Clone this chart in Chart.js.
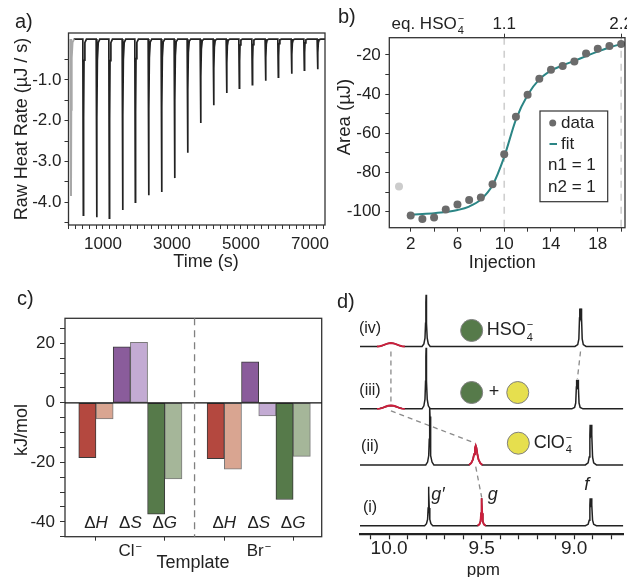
<!DOCTYPE html>
<html>
<head>
<meta charset="utf-8">
<script src="https://cdn.jsdelivr.net/npm/chart.js@4.4.1/dist/chart.umd.min.js"></script>
<style>
  body { margin: 0; background: #fff; width: 627px; height: 577px; position: relative; overflow: hidden; font-family: "Liberation Sans", Arial, sans-serif; }
  canvas { position: absolute; }
  .tag { position: absolute; font-size: 20px; line-height: 1; color: #222; }
</style>
</head>
<body>
<canvas id="chart-a" width="330" height="285" style="left:0;top:0"></canvas>
<canvas id="chart-b" width="297" height="285" style="left:330px;top:0"></canvas>
<canvas id="chart-c" width="330" height="292" style="left:0;top:285px"></canvas>
<canvas id="chart-d" width="297" height="292" style="left:330px;top:285px"></canvas>
<div class="tag" style="left:15px;top:11px">a)</div>
<div class="tag" style="left:338px;top:6px">b)</div>
<div class="tag" style="left:17px;top:288px">c)</div>
<div class="tag" style="left:337px;top:291px">d)</div>
<script>
// a) raw ITC trace: injection times (s) and peak minima (uJ/s)
const A_INJ_TIME = [72, 430, 817, 1184, 1570, 1937, 2324, 2700, 3077, 3454, 3831, 4208, 4585, 4952, 5329, 5714, 6082, 6469, 6836, 7222];
const A_PEAK = [-3.85, -4.32, -4.37, -4.39, -4.19, -4.0, -3.83, -3.75, -3.41, -2.79, -2.06, -1.62, -1.32, -1.20, -1.12, -1.02, -0.93, -0.85, -0.76, -0.74];
const A_X_LABELS = [1000, 3000, 5000, 7000];
const A_Y_LABELS = [-1, -2, -3, -4];

// b) integrated heats
const B_INJ = [1, 2, 3, 4, 5, 6, 7, 8, 9, 10, 11, 12, 13, 14, 15, 16, 17, 18, 19, 20];
const B_AREA = [-87.2, -102.0, -103.7, -103.0, -98.9, -96.4, -94.1, -92.8, -86.0, -70.7, -51.5, -40.3, -32.1, -27.5, -25.6, -23.4, -19.3, -16.9, -15.4, -14.4];
const B_FIT_INJ = [2, 3, 4, 5, 6, 7, 8, 9, 10, 11, 12, 13, 14, 15, 16, 17, 18, 19, 20];
const B_FIT = [-101.5, -101.2, -100.8, -100.2, -99.2, -97.4, -93.8, -86.5, -72.0, -53.0, -40.5, -32.5, -28.0, -25.3, -23.0, -20.6, -18.3, -16.2, -14.4];
const B_X_LABELS = [2, 6, 10, 14, 18];
const B_Y_LABELS = [-20, -40, -60, -80, -100];
const B_TOP_AT = [10, 20];
const B_TOP_LABELS = ['1.1', '2.2'];

// c) thermodynamic parameters (kJ/mol), order: Cl dH dS dG, Br dH dS dG
const C_TEMPLATES = ['Cl', 'Br'];
const C_TERMS = ['H', 'S', 'G'];
const C_DARK = [-18.4, 18.8, -37.4, -18.8, 13.8, -32.5];
const C_LIGHT = [-5.4, 20.3, -25.6, -22.3, -4.4, -18.0];
const C_Y_LABELS = [20, 0, -20, -40];

// d) 1H NMR stack, peaks per spectrum (ppm, height)
const D_NAMES = ['(iv)', '(iii)', '(ii)', '(i)'];
const D_PPM = [[9.99, 9.80, 8.966], [9.99, 9.80, 8.983], [9.78, 9.532, 8.91], [9.786, 9.50, 8.91]];
const D_HEIGHT = [[3.4, 51.7, 38], [3.4, 61, 29], [57, 19.3, 40], [39, 27.4, 27.4]];
const D_KIND = [['broad', 'sharp', 'doublet'], ['broad', 'sharp', 'doublet'], ['sharp', 'medium', 'doublet'], ['sharp', 'sharp', 'doublet']];
const D_RED = [[true, false, false], [true, false, false], [false, true, false], [false, true, false]];
const D_X_LABELS = [10.0, 9.5, 9.0];

const FONT = '"Liberation Sans", Arial, Helvetica, sans-serif';
const INK = '#222';
Chart.defaults.font.family = FONT;
Chart.defaults.color = INK;
Chart.defaults.animation = false;

function steps(from, to, step) {
  const out = [];
  for (let v = from; v <= to + 1e-9; v += step) out.push(Math.round(v * 1000) / 1000);
  return out;
}
const fixTicks = list => s => { s.ticks = list.map(value => ({ value })); };

function txt(ctx, s, x, y, size, opts = {}) {
  ctx.save();
  ctx.font = `${opts.italic ? 'italic ' : ''}${size}px ${FONT}`;
  ctx.fillStyle = opts.color || INK;
  ctx.textAlign = opts.align || 'center';
  ctx.textBaseline = opts.baseline || 'middle';
  ctx.translate(x, y);
  if (opts.rot) ctx.rotate(opts.rot);
  ctx.fillText(s, 0, 0);
  ctx.restore();
}

// text with subscript and superscript stacked after it
function chem(ctx, x, y, base, sub, sup, size) {
  ctx.save();
  ctx.font = `${size}px ${FONT}`;
  ctx.fillStyle = INK;
  ctx.textAlign = 'left';
  ctx.textBaseline = 'middle';
  ctx.fillText(base, x, y);
  const w = ctx.measureText(base).width;
  ctx.font = `${Math.round(size * 0.62)}px ${FONT}`;
  if (sub) ctx.fillText(sub, x + w + 1, y + size * 0.4);
  if (sup) ctx.fillText(sup, x + w + 1, y - size * 0.3);
  ctx.restore();
}

const framePlugin = {
  id: 'frame',
  afterDatasetsDraw(chart) {
    const { ctx, chartArea: a } = chart;
    ctx.save();
    ctx.strokeStyle = '#333';
    ctx.lineWidth = 1.3;
    ctx.strokeRect(a.left, a.top, a.right - a.left, a.bottom - a.top);
    ctx.restore();
  },
};

function tickAxis(extra) {
  return Object.assign({
    type: 'linear',
    border: { display: false },
    grid: { drawOnChartArea: false, drawTicks: true, tickLength: 4, tickColor: '#333', tickWidth: 1 },
  }, extra);
}

// ---------- a) ----------
const SPIKE_SHAPE = [[-15, 0], [0, 1], [8, 0.45], [20, 0.12], [45, 0.02], [90, 0]];
function spikes(times, peaks) {
  const pts = [];
  times.forEach((t, i) => SPIKE_SHAPE.forEach(([dt, f]) => pts.push({ x: t + dt, y: peaks[i] * f })));
  return pts;
}

new Chart(document.getElementById('chart-a'), {
  type: 'line',
  data: {
    datasets: [
      { data: spikes(A_INJ_TIME.slice(0, 1), A_PEAK.slice(0, 1)), borderColor: '#a8a8a8', borderWidth: 2, pointRadius: 0 },
      { data: [{ x: 150, y: 0 }, ...spikes(A_INJ_TIME.slice(1), A_PEAK.slice(1)), { x: 7435, y: 0 }], borderColor: INK, borderWidth: 1.7, pointRadius: 0 },
    ],
  },
  options: {
    responsive: false,
    events: [],
    layout: { autoPadding: false, padding: { top: 33, right: 5 } },
    plugins: { legend: { display: false }, tooltip: { enabled: false } },
    scales: {
      x: tickAxis({
        min: 0, max: 7435,
        afterFit: s => { s.height = 60; },
        afterBuildTicks: fixTicks(steps(0, 7400, 200)),
        ticks: {
          autoSkip: false, maxRotation: 0, padding: 5, font: { size: 17 },
          callback: v => (A_X_LABELS.includes(v) ? String(v) : ''),
        },
      }),
      y: tickAxis({
        min: -4.56, max: 0.15,
        afterFit: s => { s.width = 68.5; },
        afterBuildTicks: fixTicks(steps(-4.5, -0.5, 0.5)),
        ticks: {
          autoSkip: false, padding: 3, font: { size: 17 },
          callback: v => (A_Y_LABELS.includes(v) ? v.toFixed(1) : ''),
        },
      }),
    },
  },
  plugins: [framePlugin, {
    id: 'titlesA',
    afterDraw(chart) {
      const { ctx } = chart;
      txt(ctx, 'Raw Heat Rate (µJ / s)', 22, 129, 18, { rot: -Math.PI / 2 });
      txt(ctx, 'Time (s)', 206, 262, 18);
    },
  }],
});

// ---------- b) ----------
new Chart(document.getElementById('chart-b'), {
  type: 'line',
  data: {
    datasets: [
      {
        data: B_INJ.map((x, i) => ({ x, y: B_AREA[i] })),
        showLine: false, pointRadius: 4, pointBorderWidth: 0,
        pointBackgroundColor: B_INJ.map((_, i) => (i === 0 ? '#cccccc' : '#6b6b6b')),
      },
      {
        data: B_FIT_INJ.map((x, i) => ({ x, y: B_FIT[i] })),
        borderColor: '#2b8585', borderWidth: 2, pointRadius: 0, cubicInterpolationMode: 'monotone',
      },
    ],
  },
  options: {
    responsive: false,
    events: [],
    layout: { autoPadding: false, padding: { right: 2 } },
    plugins: { legend: { display: false }, tooltip: { enabled: false } },
    scales: {
      x: tickAxis({
        min: 0.17, max: 20.33,
        afterFit: s => { s.height = 57.3; },
        afterBuildTicks: fixTicks(steps(2, 20, 2)),
        ticks: {
          autoSkip: false, maxRotation: 0, padding: 2.5, font: { size: 17 },
          callback: v => (B_X_LABELS.includes(v) ? String(v) : ''),
        },
      }),
      x2: tickAxis({
        position: 'top',
        min: 0.17, max: 20.33,
        afterFit: s => { s.height = 37.7; },
        afterBuildTicks: fixTicks(B_TOP_AT),
        ticks: { autoSkip: false, maxRotation: 0, callback: () => '' },
      }),
      y: tickAxis({
        min: -108.2, max: -11.2,
        afterFit: s => { s.width = 59.3; },
        afterBuildTicks: fixTicks(steps(-100, -20, 10)),
        ticks: {
          autoSkip: false, padding: 4.5, font: { size: 17 },
          callback: v => (B_Y_LABELS.includes(v) ? String(v) : ''),
        },
      }),
    },
  },
  plugins: [framePlugin, {
    id: 'decorB',
    beforeDatasetsDraw(chart) {
      const { ctx, chartArea: a, scales } = chart;
      ctx.save();
      ctx.strokeStyle = '#cfcfcf';
      ctx.lineWidth = 1.6;
      ctx.setLineDash([7, 6]);
      B_TOP_AT.forEach(v => {
        const x = scales.x.getPixelForValue(v);
        ctx.beginPath(); ctx.moveTo(x, a.top); ctx.lineTo(x, a.bottom); ctx.stroke();
      });
      ctx.restore();
    },
    afterDraw(chart) {
      const { ctx, scales } = chart;
      B_TOP_AT.forEach((v, i) => txt(ctx, B_TOP_LABELS[i], scales.x.getPixelForValue(v), 24, 17));
      // legend box
      ctx.save();
      ctx.fillStyle = '#fff';
      ctx.fillRect(210, 111, 67.7, 90.7);
      ctx.strokeStyle = '#333';
      ctx.lineWidth = 1.2;
      ctx.strokeRect(210, 111, 67.7, 90.7);
      ctx.fillStyle = '#6b6b6b';
      ctx.beginPath(); ctx.arc(222.7, 123, 3.5, 0, Math.PI * 2); ctx.fill();
      ctx.strokeStyle = '#2b8585';
      ctx.lineWidth = 2;
      ctx.beginPath(); ctx.moveTo(219.5, 144); ctx.lineTo(227, 144); ctx.stroke();
      ctx.restore();
      txt(ctx, 'data', 231, 123, 17, { align: 'left' });
      txt(ctx, 'fit', 231, 144, 17, { align: 'left' });
      txt(ctx, 'n1 = 1', 218, 165.7, 17, { align: 'left' });
      txt(ctx, 'n2 = 1', 218, 187.3, 17, { align: 'left' });
      chem(ctx, 61.5, 24, 'eq. HSO', '4', '\u2212', 17);
      txt(ctx, 'Area (µJ)', 15, 117, 18.5, { rot: -Math.PI / 2 });
      txt(ctx, 'Injection', 172.3, 263, 18);
    },
  }],
});

// ---------- c) ----------
const GROUP_STEP = 3.73;
const cPos = i => Math.floor(i / 3) * GROUP_STEP + (i % 3);
const C_COLORS_DARK = ['#b4483f', '#8a5c9b', '#567a4a'];
const C_COLORS_LIGHT = ['#d9a591', '#c3abd3', '#a5b699'];

new Chart(document.getElementById('chart-c'), {
  type: 'bar',
  data: {
    datasets: [
      {
        data: C_DARK.map((y, i) => ({ x: cPos(i), y })),
        backgroundColor: C_DARK.map((_, i) => C_COLORS_DARK[i % 3]),
        borderColor: '#3a3a3a', borderWidth: 1, borderSkipped: false,
        categoryPercentage: 1, barPercentage: 1,
      },
      {
        data: C_LIGHT.map((y, i) => ({ x: cPos(i), y })),
        backgroundColor: C_LIGHT.map((_, i) => C_COLORS_LIGHT[i % 3]),
        borderColor: '#7a7a7a', borderWidth: 1, borderSkipped: false,
        categoryPercentage: 1, barPercentage: 1,
      },
    ],
  },
  options: {
    responsive: false,
    events: [],
    layout: { autoPadding: false, padding: { top: 33.3, right: 8.3 } },
    plugins: { legend: { display: false }, tooltip: { enabled: false } },
    scales: {
      x: tickAxis({
        min: -0.9, max: 6.56, offset: false,
        grid: { offset: false, drawOnChartArea: false, tickLength: 4, tickColor: '#333' },
        afterFit: s => { s.height = 40.3; },
        afterBuildTicks: fixTicks([0, 2, GROUP_STEP, GROUP_STEP + 2]),
        ticks: { autoSkip: false, callback: () => '' },
      }),
      y: tickAxis({
        min: -45, max: 28.4,
        afterFit: s => { s.width = 65; },
        grid: { drawOnChartArea: false, tickLength: 5, tickColor: '#333' },
        afterBuildTicks: fixTicks(steps(-45, 25, 5)),
        ticks: {
          autoSkip: false, padding: 5, font: { size: 17 },
          callback: v => (C_Y_LABELS.includes(v) ? String(v) : ''),
        },
      }),
    },
  },
  plugins: [framePlugin, {
    id: 'decorC',
    afterDatasetsDraw(chart) {
      const { ctx, chartArea: a, scales } = chart;
      ctx.save();
      const y0 = scales.y.getPixelForValue(0);
      ctx.strokeStyle = '#111';
      ctx.lineWidth = 1.3;
      ctx.beginPath(); ctx.moveTo(a.left, y0); ctx.lineTo(a.right, y0); ctx.stroke();
      const xm = scales.x.getPixelForValue((2 + GROUP_STEP) / 2);
      ctx.strokeStyle = '#808080';
      ctx.setLineDash([7, 5]);
      ctx.beginPath(); ctx.moveTo(xm, a.top); ctx.lineTo(xm, a.bottom); ctx.stroke();
      ctx.restore();
      C_TEMPLATES.forEach((name, g) => {
        C_TERMS.forEach((term, t) => {
          const x = scales.x.getPixelForValue(g * GROUP_STEP + t);
          ctx.save();
          ctx.font = `17px ${FONT}`;
          const wD = ctx.measureText('\u0394').width;
          ctx.font = `italic 17px ${FONT}`;
          const wL = ctx.measureText(term).width;
          ctx.restore();
          const x0 = x - (wD + wL) / 2;
          txt(ctx, '\u0394', x0, a.bottom - 13, 17, { align: 'left' });
          txt(ctx, term, x0 + wD, a.bottom - 13, 17, { align: 'left', italic: true });
        });
        const xc = scales.x.getPixelForValue(g * GROUP_STEP + 1);
        chem(ctx, xc - 12, a.bottom + 15, name, '', '\u2212', 17);
      });
    },
    afterDraw(chart) {
      const { ctx } = chart;
      txt(ctx, 'kJ/mol', 22, 145, 18, { rot: -Math.PI / 2 });
      txt(ctx, 'Template', 193, 278.5, 18);
    },
  }],
});

// ---------- d) ----------
const PEAK_SHAPES = {
  sharp: [[-0.022, 0], [-0.012, 0.05], [-0.006, 0.16], [-0.003, 0.45], [-0.0012, 0.85], [0, 1], [0.0012, 0.85], [0.003, 0.45], [0.006, 0.16], [0.012, 0.05], [0.022, 0]],
  doublet: [[-0.03, 0], [-0.015, 0.05], [-0.009, 0.2], [-0.0055, 0.75], [-0.004, 1], [-0.0015, 0.78], [0, 0.74], [0.0015, 0.78], [0.004, 1], [0.0055, 0.75], [0.009, 0.2], [0.015, 0.05], [0.03, 0]],
  medium: [[-0.036, 0], [-0.024, 0.1], [-0.015, 0.28], [-0.009, 0.55], [-0.004, 0.88], [0, 1], [0.004, 0.88], [0.009, 0.55], [0.015, 0.28], [0.024, 0.1], [0.036, 0]],
  broad: [[-0.075, 0], [-0.06, 0.08], [-0.045, 0.3], [-0.03, 0.62], [-0.015, 0.9], [0, 1], [0.015, 0.9], [0.03, 0.62], [0.045, 0.3], [0.06, 0.08], [0.075, 0]],
};
const D_OFFSET = [187.6, 125.3, 69.3, 8.6];
const D_MIN = 8.735, D_MAX = 10.157;

function peakPoints(ppm, h, kind, off) {
  return PEAK_SHAPES[kind].map(([d, f]) => ({ x: ppm - d, y: off + h * f }));
}

const dSets = [];
D_NAMES.forEach((name, s) => {
  const off = D_OFFSET[s];
  let pts = [{ x: D_MAX, y: off }];
  D_PPM[s].forEach((p, k) => { pts = pts.concat(peakPoints(p, D_HEIGHT[s][k], D_KIND[s][k], off)); });
  pts.push({ x: D_MIN, y: off });
  dSets.push({ data: pts, borderColor: INK, borderWidth: 1.5, pointRadius: 0, order: 2 });
});
D_NAMES.forEach((name, s) => {
  D_PPM[s].forEach((p, k) => {
    if (!D_RED[s][k]) return;
    dSets.push({ data: peakPoints(p, D_HEIGHT[s][k], D_KIND[s][k], D_OFFSET[s]), borderColor: '#cc1f3c', borderWidth: 1.9, pointRadius: 0, order: 1 });
  });
});

const D_LINKS = [[9.99, 182.6, 9.99, 131], [9.99, 123.3, 9.535, 91], [9.532, 67.5, 9.50, 37], [8.966, 182.6, 8.983, 155.3]];
const D_GREEN = '#567a4a', D_YELLOW = '#e6df4e';

new Chart(document.getElementById('chart-d'), {
  type: 'line',
  data: { datasets: dSets },
  options: {
    responsive: false,
    events: [],
    layout: { autoPadding: false, padding: { left: 30, right: 3.7 } },
    plugins: { legend: { display: false }, tooltip: { enabled: false } },
    scales: {
      x: {
        type: 'linear', reverse: true, min: D_MIN, max: D_MAX,
        border: { display: true, width: 2.2, color: INK },
        grid: { drawOnChartArea: false, tickLength: 5, tickColor: INK, tickWidth: 1.2 },
        afterFit: s => { s.height = 42.7; },
        afterBuildTicks: fixTicks(steps(8.8, 10.1, 0.1)),
        ticks: {
          autoSkip: false, maxRotation: 0, padding: 0,
          font: { size: 19, lineHeight: 1 },
          callback: v => (D_X_LABELS.some(l => Math.abs(l - v) < 1e-6) ? v.toFixed(1) : ''),
        },
      },
      y: { type: 'linear', display: false, min: 0, max: 249 },
    },
  },
  plugins: [{
    id: 'decorD',
    beforeDatasetsDraw(chart) {
      const { ctx, scales: { x, y } } = chart;
      ctx.save();
      ctx.strokeStyle = '#8a8a8a';
      ctx.lineWidth = 1.3;
      ctx.setLineDash([5, 4]);
      D_LINKS.forEach(([p1, y1, p2, y2]) => {
        ctx.beginPath();
        ctx.moveTo(x.getPixelForValue(p1), y.getPixelForValue(y1));
        ctx.lineTo(x.getPixelForValue(p2), y.getPixelForValue(y2));
        ctx.stroke();
      });
      ctx.restore();
    },
    afterDatasetsDraw(chart) {
      const { ctx, chartArea: a, scales: { x, y } } = chart;
      D_NAMES.forEach((name, s) => txt(ctx, name, a.left + 10, y.getPixelForValue(D_OFFSET[s]) - 18, 16));
      const dot = (ppm, v, fill) => {
        ctx.save();
        ctx.fillStyle = fill;
        ctx.strokeStyle = '#808080';
        ctx.lineWidth = 1;
        ctx.beginPath(); ctx.arc(x.getPixelForValue(ppm), y.getPixelForValue(v), 11, 0, Math.PI * 2);
        ctx.fill(); ctx.stroke();
        ctx.restore();
      };
      dot(9.554, 203.6, D_GREEN);
      chem(ctx, x.getPixelForValue(9.473), y.getPixelForValue(203.6), 'HSO', '4', '\u2212', 18);
      dot(9.554, 141.6, D_GREEN);
      txt(ctx, '+', x.getPixelForValue(9.433), y.getPixelForValue(141.6), 18);
      dot(9.305, 141.6, D_YELLOW);
      dot(9.302, 91, D_YELLOW);
      chem(ctx, x.getPixelForValue(9.218), y.getPixelForValue(91), 'ClO', '4', '\u2212', 18);
      txt(ctx, 'g\u2032', x.getPixelForValue(9.736), y.getPixelForValue(39.3), 18, { italic: true });
      txt(ctx, 'g', x.getPixelForValue(9.44), y.getPixelForValue(39.3), 18, { italic: true });
      txt(ctx, 'f', x.getPixelForValue(8.933), y.getPixelForValue(49.3), 18, { italic: true });
      txt(ctx, 'ppm', 153.3, 289.5, 17, { baseline: 'alphabetic' });
    },
  }],
});
</script>
</body>
</html>
